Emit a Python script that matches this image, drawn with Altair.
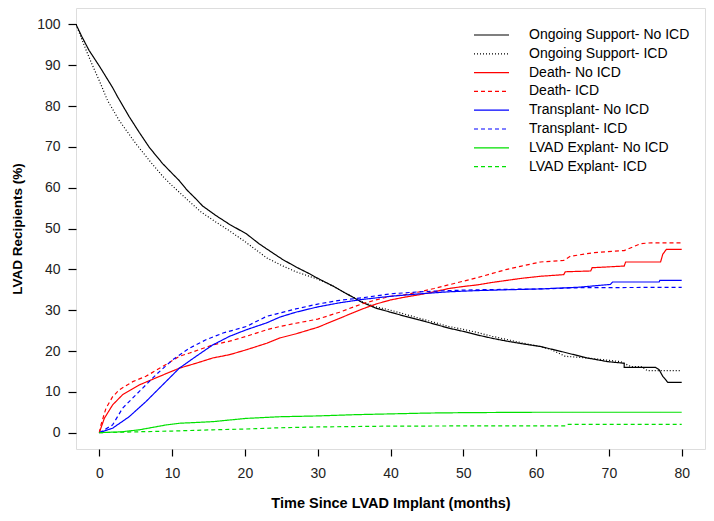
import altair as alt
import pandas as pd

# ---------------- data ----------------
series_names = [
    "Ongoing Support- No ICD", "Ongoing Support- ICD",
    "Death- No ICD", "Death- ICD",
    "Transplant- No ICD", "Transplant- ICD",
    "LVAD Explant- No ICD", "LVAD Explant- ICD",
]
series_colors = ["black", "black", "#ff0000", "#ff0000", "#0000ff", "#0000ff", "#00e000", "#00e000"]
series_dash = [[1, 0], [1, 2], [1, 0], [4, 3], [1, 0], [4, 3], [1, 0], [4, 3]]

os_no_t = [-3.2, -2.4, -1.4, 0, 1.8, 2.5, 4.1, 5.5, 6.9, 8.7, 10, 11, 12, 13.3, 14.2, 16, 17.9, 20.2, 22, 24,
           25.2, 27, 29, 30, 32, 34, 36, 38, 40, 42, 44, 46, 48, 50, 52, 54, 56, 58, 60.6, 63.4, 67, 69.8,
           72.1, 72.1, 76.4, 76.9, 77.4, 78.1, 80]
os_no_v = [100, 97, 93.6, 89.8, 84.6, 82.3, 77.4, 73.5, 69.8, 65.9, 63.5, 61.7, 59.5, 57.2, 55.5, 53.2, 51.0, 48.7, 46.2, 43.8,
           42.4, 40.6, 38.8, 37.8, 36.0, 34.0, 32.0, 30.5, 29.5, 28.5, 27.6, 26.6, 25.6, 24.8, 23.9, 23.1, 22.4, 21.8, 21.1, 19.9, 18.3, 17.4,
           17.0, 16.0, 16.0, 15.4, 13.8, 12.3, 12.3]

os_icd_t = [-3.2, -2, -1, 0, 1.15, 2.75, 5.05, 6.9, 8.7, 10, 12, 14, 16, 17.9, 20, 23, 25, 27, 29, 30, 32, 34, 36,
            38, 40, 42, 44, 46, 48, 50, 52, 54, 56, 58, 60.6, 62, 64, 67, 71.6, 73, 74.4, 75.3, 80]
os_icd_v = [100, 94.5, 90.2, 86.2, 81.3, 76.4, 70.7, 66.6, 62.8, 60.5, 57.2, 54.0, 51.6, 49.4, 46.8, 42.8, 41.0, 39.4, 38.2, 37.6, 36.0, 34.0, 32.1,
            30.8, 30.0, 29.0, 28.0, 27.0, 26.0, 25.3, 24.5, 23.6, 22.8, 22.0, 21.1, 20.4, 18.7, 18.3, 17.4, 16.2, 16.2, 15.2, 15.2]

death_no_t = [0, 0.69, 1.83, 3.2, 5.5, 8.3, 11, 13.3, 15.6, 17.9, 20.2, 23, 24.8, 27, 30, 33, 36, 38, 40, 42, 44, 46,
              48, 50, 52, 54, 56, 58, 60.6, 63.8, 64, 67.5, 67.7, 72.1, 72.3, 77.1, 77.4, 77.9, 80]
death_no_v = [0, 3.5, 6.8, 9.3, 11.7, 13.8, 15.8, 17.0, 18.3, 19.1, 20.3, 21.9, 23.2, 24.2, 25.8, 28.0, 30.2, 31.5, 32.5, 33.2, 33.8, 34.5,
              35.3, 35.8, 36.2, 36.8, 37.3, 37.8, 38.3, 38.7, 39.4, 39.6, 40.4, 40.8, 41.8, 41.8, 43.7, 44.9, 44.9]

death_icd_t = [0, 0.23, 0.92, 1.83, 2.75, 4.6, 6.4, 8.7, 11, 12.4, 15.6, 17.9, 20.2, 23, 24.8, 27, 30, 33, 36, 38, 40,
               42, 44, 46, 48, 50, 52, 54, 56, 58, 60.6, 63.8, 64.7, 68, 72.1, 74.4, 75.8, 80]
death_icd_v = [0, 1.9, 6.0, 8.8, 10.5, 12.5, 13.8, 16.2, 18.7, 19.5, 21.5, 22.4, 23.6, 25.2, 26.0, 26.8, 27.8, 29.5, 31.5, 32.5, 33.4,
               33.8, 34.5, 35.3, 36.2, 37.1, 38.0, 39.0, 40.0, 40.8, 41.8, 42.2, 43.2, 44.1, 44.6, 46.3, 46.5, 46.5]

tx_no_t = [0, 1.83, 4.1, 6.4, 8.7, 11, 13.3, 15.6, 17.9, 20.2, 23, 24.8, 27, 30, 33, 36, 40, 44, 48, 52, 56, 60.6,
           65.7, 70.2, 70.5, 76.9, 77, 80]
tx_no_v = [0, 1.1, 3.9, 7.6, 11.7, 15.8, 18.7, 21.5, 23.6, 25.2, 26.9, 28.3, 29.5, 30.8, 31.8, 32.6, 33.4, 34.0, 34.5, 34.8, 35.0, 35.2,
           35.6, 36.3, 36.9, 36.9, 37.3, 37.3]

tx_icd_t = [0, 1.83, 3.2, 5.5, 7.8, 10.1, 12.4, 14.7, 17, 20.2, 23, 24.8, 27, 30, 33, 36, 40, 44, 48, 52, 56, 60.6, 66, 80]
tx_icd_v = [0, 1.9, 6.0, 10.1, 14.2, 17.9, 20.7, 22.8, 24.4, 26.0, 28.5, 29.3, 30.3, 31.5, 32.4, 33.0, 34.0, 34.5, 34.8, 35.0, 35.1, 35.2, 35.5, 35.6]

ex_no_t = [0, 3, 5.5, 9.2, 11, 15.6, 20.2, 24.8, 30, 35, 40, 45, 50, 60, 80]
ex_no_v = [0, 0.2, 0.7, 1.9, 2.3, 2.7, 3.5, 3.9, 4.1, 4.4, 4.6, 4.8, 4.9, 5.0, 5.0]

ex_icd_t = [0, 5, 10, 15.6, 20.2, 24.8, 30, 40, 50, 64, 64.3, 80]
ex_icd_v = [0, 0.2, 0.4, 0.7, 0.9, 1.2, 1.4, 1.6, 1.65, 1.65, 2.05, 2.05]

x_ticks = [0, 10, 20, 30, 40, 50, 60, 70, 80]
y_ticks = [0, 10, 20, 30, 40, 50, 60, 70, 80, 90, 100]

# ---------------- build table ----------------
all_t = [os_no_t, os_icd_t, death_no_t, death_icd_t, tx_no_t, tx_icd_t, ex_no_t, ex_icd_t]
all_v = [os_no_v, os_icd_v, death_no_v, death_icd_v, tx_no_v, tx_icd_v, ex_no_v, ex_icd_v]
rows = []
for name, ts, vs in zip(series_names, all_t, all_v):
    for i, (t, v) in enumerate(zip(ts, vs)):
        rows.append({"series": name, "t": t, "v": v, "i": i})
df = pd.DataFrame(rows)

FONT = "Liberation Sans"

legend = alt.Legend(
    title=None, orient="none", legendX=397, legendY=19, padding=0,
    symbolType="stroke", symbolSize=1225, symbolStrokeWidth=1.2,
    labelFontSize=14, labelFont=FONT, labelColor="black", labelOffset=19,
    rowPadding=2.8, clipHeight=16, labelLimit=400,
)

chart = alt.Chart(df).mark_line(strokeWidth=1.2, clip=True).encode(
    x=alt.X("t:Q", scale=alt.Scale(domain=[-3.2, 83.2], nice=False, zero=False),
            axis=alt.Axis(values=x_ticks, title="Time Since LVAD Implant (months)", grid=False,
                          domain=False, tickColor="black", tickSize=7, tickWidth=1.2,
                          labelFont=FONT, labelFontSize=14, labelColor="#222", labelPadding=10,
                          titleFont=FONT, titleFontSize=14.5, titleFontWeight="bold", titleColor="black",
                          titleBaseline="middle", titleY=54, titleX=314.5)),
    y=alt.Y("v:Q", scale=alt.Scale(domain=[-4, 104], nice=False, zero=False),
            axis=alt.Axis(values=y_ticks, title="LVAD Recipients (%)", grid=False,
                          domain=False, tickColor="black", tickSize=8, tickWidth=1.2,
                          labelFont=FONT, labelFontSize=14, labelColor="#222", labelPadding=8,
                          titleFont=FONT, titleFontSize=13.5, titleFontWeight="bold", titleColor="black",
                          titleAngle=270, titleBaseline="middle", titleAlign="center",
                          titleX=-59, titleY=220.5)),
    color=alt.Color("series:N", scale=alt.Scale(domain=series_names, range=series_colors), legend=legend),
    strokeDash=alt.StrokeDash("series:N", scale=alt.Scale(domain=series_names, range=series_dash), legend=legend),
    detail="series:N",
    order=alt.Order("i:Q"),
).properties(
    width=629, height=441,
    autosize=alt.AutoSizeParams(type="none"),
    padding={"left": 68, "top": 0, "right": 1, "bottom": 64},
).configure_view(
    stroke="black", strokeWidth=1.2
).configure(background="white")

chart.save("out.html", embed_options={"renderer": "svg", "actions": False})
